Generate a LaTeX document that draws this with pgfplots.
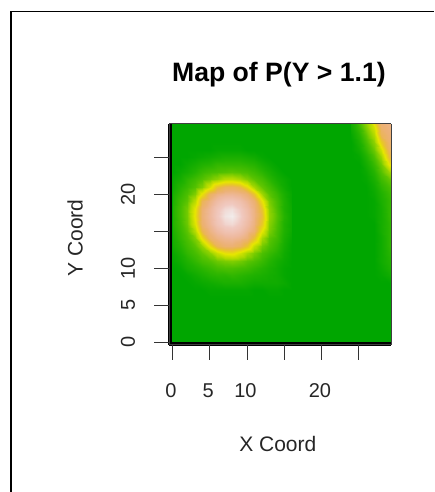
\documentclass[border=0pt]{standalone}
\usepackage{pgfplots}
\pgfplotsset{compat=1.18}
\usepackage{fontspec}
\setmainfont{Liberation Sans}
\begin{document}
\begin{tikzpicture}[x=1pt,y=1pt]
\path[use as bounding box] (0,0) rectangle (434,492);
\draw[black,line width=1.6pt] (11,0) -- (11,481.2) (10.2,480.5) -- (434,480.5);
\begin{axis}[
  at={(169pt,147pt)},anchor=south west,scale only axis,width=222pt,height=221pt,
  view={0}{90},clip mode=individual,
  xmin=-0.47,xmax=29.33,ymin=-0.4,ymax=29.46,
  xtick={0,5,10,15,20,25},xticklabels={0,5,10,,20,},
  ytick={0,5,10,15,20,25},yticklabels={0,5,10,,20,},
  ztick=\empty,
  tick align=outside,xtick pos=left,ytick pos=left,
  major tick length=15pt,
  tick style={line width=1pt,color=black!80},
  axis line style={line width=1pt,color=black!75},
  tick label style={font=\fontsize{20}{22}\selectfont,text=black!85},
  yticklabel style={rotate=90,anchor=center},
  xticklabel style={anchor=center,xshift=-1.5pt},
  xticklabel shift=31pt,
  yticklabel shift=26pt,
  title={Map of P(Y > 1.1)},
  title style={at={(axis description cs:0.495,1.194)},anchor=center,font=\fontsize{26.6}{29}\selectfont\bfseries},
  xlabel={X Coord},
  xlabel style={at={(axis description cs:0.49,-0.448)},anchor=center,font=\fontsize{21}{23}\selectfont,text=black!85},
  ylabel={Y Coord},
  ylabel style={at={(axis description cs:-0.423,0.484)},anchor=center,rotate=0,font=\fontsize{21}{23}\selectfont,text=black!85},
  colormap={terrain}{rgb255(0pt)=(0,166,0) rgb255(7pt)=(36,179,0) rgb255(13pt)=(76,191,0) rgb255(19pt)=(122,204,0) rgb255(27pt)=(173,217,0) rgb255(40pt)=(230,230,0) rgb255(52pt)=(232,199,39) rgb255(60pt)=(234,182,78) rgb255(70pt)=(236,177,118) rgb255(79pt)=(238,185,159) rgb255(90pt)=(240,201,192) rgb255(100pt)=(242,242,242)},
  point meta min=0,point meta max=1,
]
\addplot3[surf,shader=flat,mesh/cols=2,point meta=z] coordinates {(-1,-1,0)(31,-1,0)(-1,31,0)(31,31,0)};
\addplot3[surf,shader=interp,mesh/cols=17,point meta=z] coordinates {
(0,6,0)(1,6,0)(2,6,0)(3,6,0)(4,6,0)(5,6,0)(6,6,0)(7,6,0)(8,6,0)(9,6,0)(10,6,0)(11,6,0)(12,6,0)(13,6,0)(14,6,0)(15,6,0)(16,6,0)
(0,7,0)(1,7,0)(2,7,0)(3,7,0)(4,7,0)(5,7,.01)(6,7,.01)(7,7,.01)(8,7,.01)(9,7,.01)(10,7,.01)(11,7,0)(12,7,0)(13,7,.01)(14,7,.01)(15,7,0)(16,7,0)
(0,8,0)(1,8,0)(2,8,0)(3,8,.01)(4,8,.02)(5,8,.03)(6,8,.04)(7,8,.05)(8,8,.05)(9,8,.05)(10,8,.04)(11,8,.03)(12,8,.03)(13,8,.03)(14,8,.03)(15,8,.02)(16,8,0)
(0,9,0)(1,9,0)(2,9,.01)(3,9,.03)(4,9,.05)(5,9,.07)(6,9,.08)(7,9,.08)(8,9,.09)(9,9,.08)(10,9,.07)(11,9,.06)(12,9,.05)(13,9,.04)(14,9,.03)(15,9,.01)(16,9,0)
(0,10,0)(1,10,.01)(2,10,.04)(3,10,.06)(4,10,.08)(5,10,.10)(6,10,.12)(7,10,.13)(8,10,.13)(9,10,.12)(10,10,.11)(11,10,.09)(12,10,.07)(13,10,.05)(14,10,.03)(15,10,.01)(16,10,0)
(0,11,.01)(1,11,.03)(2,11,.06)(3,11,.09)(4,11,.12)(5,11,.14)(6,11,.17)(7,11,.19)(8,11,.20)(9,11,.18)(10,11,.15)(11,11,.13)(12,11,.10)(13,11,.07)(14,11,.04)(15,11,.02)(16,11,0)
(0,12,.02)(1,12,.05)(2,12,.09)(3,12,.12)(4,12,.16)(5,12,.22)(6,12,.33)(7,12,.42)(8,12,.44)(9,12,.36)(10,12,.26)(11,12,.19)(12,12,.13)(13,12,.10)(14,12,.07)(15,12,.03)(16,12,0)
(0,13,.04)(1,13,.07)(2,13,.11)(3,13,.15)(4,13,.23)(5,13,.44)(6,13,.62)(7,13,.685)(8,13,.69)(9,13,.64)(10,13,.53)(11,13,.32)(12,13,.18)(13,13,.13)(14,13,.09)(15,13,.04)(16,13,0)
(0,14,.05)(1,14,.09)(2,14,.13)(3,14,.20)(4,14,.44)(5,14,.67)(6,14,.73)(7,14,.765)(8,14,.775)(9,14,.75)(10,14,.70)(11,14,.55)(12,14,.26)(13,14,.15)(14,14,.11)(15,14,.05)(16,14,.01)
(0,15,.06)(1,15,.10)(2,15,.15)(3,15,.29)(4,15,.60)(5,15,.73)(6,15,.80)(7,15,.855)(8,15,.865)(9,15,.83)(10,15,.76)(11,15,.685)(12,15,.40)(13,15,.19)(14,15,.12)(15,15,.06)(16,15,.02)
(0,16,.07)(1,16,.11)(2,16,.17)(3,16,.38)(4,16,.68)(5,16,.77)(6,16,.865)(7,16,.925)(8,16,.94)(9,16,.89)(10,16,.81)(11,16,.72)(12,16,.51)(13,16,.21)(14,16,.13)(15,16,.06)(16,16,.02)
(0,17,.07)(1,17,.12)(2,17,.18)(3,17,.42)(4,17,.70)(5,17,.79)(6,17,.89)(7,17,.965)(8,17,.985)(9,17,.92)(10,17,.835)(11,17,.73)(12,17,.56)(13,17,.23)(14,17,.14)(15,17,.07)(16,17,.02)
(0,18,.07)(1,18,.12)(2,18,.18)(3,18,.40)(4,18,.69)(5,18,.78)(6,18,.875)(7,18,.94)(8,18,.955)(9,18,.90)(10,18,.82)(11,18,.725)(12,18,.53)(13,18,.22)(14,18,.13)(15,18,.06)(16,18,.02)
(0,19,.06)(1,19,.11)(2,19,.15)(3,19,.30)(4,19,.62)(5,19,.73)(6,19,.81)(7,19,.865)(8,19,.875)(9,19,.835)(10,19,.765)(11,19,.69)(12,19,.42)(13,19,.19)(14,19,.12)(15,19,.06)(16,19,.01)
(0,20,.05)(1,20,.09)(2,20,.13)(3,20,.20)(4,20,.42)(5,20,.65)(6,20,.725)(7,20,.76)(8,20,.765)(9,20,.74)(10,20,.695)(11,20,.53)(12,20,.25)(13,20,.15)(14,20,.10)(15,20,.05)(16,20,.01)
(0,21,.03)(1,21,.07)(2,21,.10)(3,21,.14)(4,21,.20)(5,21,.36)(6,21,.55)(7,21,.63)(8,21,.64)(9,21,.59)(10,21,.45)(11,21,.26)(12,21,.16)(13,21,.12)(14,21,.07)(15,21,.03)(16,21,0)
(0,22,.02)(1,22,.04)(2,22,.08)(3,22,.11)(4,22,.14)(5,22,.18)(6,22,.22)(7,22,.29)(8,22,.30)(9,22,.26)(10,22,.20)(11,22,.15)(12,22,.12)(13,22,.08)(14,22,.04)(15,22,.02)(16,22,0)
(0,23,0)(1,23,.02)(2,23,.04)(3,23,.07)(4,23,.10)(5,23,.12)(6,23,.13)(7,23,.14)(8,23,.15)(9,23,.14)(10,23,.13)(11,23,.11)(12,23,.08)(13,23,.05)(14,23,.02)(15,23,0)(16,23,0)
(0,24,0)(1,24,0)(2,24,.02)(3,24,.04)(4,24,.06)(5,24,.07)(6,24,.09)(7,24,.09)(8,24,.09)(9,24,.09)(10,24,.08)(11,24,.07)(12,24,.04)(13,24,.02)(14,24,0)(15,24,0)(16,24,0)
(0,25,0)(1,25,0)(2,25,0)(3,25,.01)(4,25,.02)(5,25,.03)(6,25,.04)(7,25,.05)(8,25,.05)(9,25,.05)(10,25,.04)(11,25,.03)(12,25,.01)(13,25,0)(14,25,0)(15,25,0)(16,25,0)
(0,26,0)(1,26,0)(2,26,0)(3,26,0)(4,26,0)(5,26,0)(6,26,.01)(7,26,.01)(8,26,.01)(9,26,.01)(10,26,0)(11,26,0)(12,26,0)(13,26,0)(14,26,0)(15,26,0)(16,26,0)
(0,27,0)(1,27,0)(2,27,0)(3,27,0)(4,27,0)(5,27,0)(6,27,0)(7,27,0)(8,27,0)(9,27,0)(10,27,0)(11,27,0)(12,27,0)(13,27,0)(14,27,0)(15,27,0)(16,27,0)
};
\addplot3[surf,shader=interp,mesh/cols=7,point meta=z] coordinates {
(24,8,0)(25,8,0)(26,8,0)(27,8,0)(28,8,0)(29,8,0)(30,8,0)
(24,9,0)(25,9,0)(26,9,0)(27,9,0)(28,9,.01)(29,9,.03)(30,9,.03)
(24,10,0)(25,10,0)(26,10,0)(27,10,0)(28,10,.02)(29,10,.05)(30,10,.06)
(24,11,0)(25,11,0)(26,11,0)(27,11,0)(28,11,.03)(29,11,.06)(30,11,.07)
(24,12,0)(25,12,0)(26,12,0)(27,12,0)(28,12,.03)(29,12,.07)(30,12,.08)
(24,13,0)(25,13,0)(26,13,0)(27,13,0)(28,13,.03)(29,13,.08)(30,13,.09)
(24,14,0)(25,14,0)(26,14,0)(27,14,0)(28,14,.03)(29,14,.08)(30,14,.09)
(24,15,0)(25,15,0)(26,15,0)(27,15,0)(28,15,.04)(29,15,.08)(30,15,.09)
(24,16,0)(25,16,0)(26,16,0)(27,16,0)(28,16,.04)(29,16,.08)(30,16,.09)
(24,17,0)(25,17,0)(26,17,0)(27,17,.01)(28,17,.04)(29,17,.09)(30,17,.10)
(24,18,0)(25,18,0)(26,18,0)(27,18,.01)(28,18,.04)(29,18,.09)(30,18,.10)
(24,19,0)(25,19,0)(26,19,0)(27,19,.01)(28,19,.05)(29,19,.09)(30,19,.10)
(24,20,0)(25,20,0)(26,20,0)(27,20,.02)(28,20,.06)(29,20,.10)(30,20,.11)
(24,21,0)(25,21,0)(26,21,0)(27,21,.03)(28,21,.08)(29,21,.12)(30,21,.13)
(24,22,0)(25,22,0)(26,22,.01)(27,22,.05)(28,22,.11)(29,22,.16)(30,22,.18)
(24,23,0)(25,23,0)(26,23,.02)(27,23,.07)(28,23,.14)(29,23,.24)(30,23,.28)
(24,24,0)(25,24,0)(26,24,.04)(27,24,.10)(28,24,.18)(29,24,.42)(30,24,.50)
(24,25,0)(25,25,.01)(26,25,.06)(27,25,.13)(28,25,.24)(29,25,.56)(30,25,.60)
(24,26,0)(25,26,.03)(26,26,.09)(27,26,.17)(28,26,.34)(29,26,.64)(30,26,.67)
(24,27,0)(25,27,.05)(26,27,.12)(27,27,.22)(28,27,.50)(29,27,.68)(30,27,.70)
(24,28,.01)(25,28,.07)(26,28,.15)(27,28,.28)(28,28,.62)(29,28,.70)(30,28,.72)
(24,29,.03)(25,29,.10)(26,29,.20)(27,29,.36)(28,29,.68)(29,29,.72)(30,29,.73)
(24,30,.04)(25,30,.13)(26,30,.24)(27,30,.50)(28,30,.70)(29,30,.73)(30,30,.74)
};
\draw[black,line width=3.4pt] (rel axis cs:0.004,0,0) -- (rel axis cs:0.004,1,0);
\draw[black,line width=4pt] (rel axis cs:0,0.004,0) -- (rel axis cs:1,0.004,0);
\end{axis}
\end{tikzpicture}
\end{document}
